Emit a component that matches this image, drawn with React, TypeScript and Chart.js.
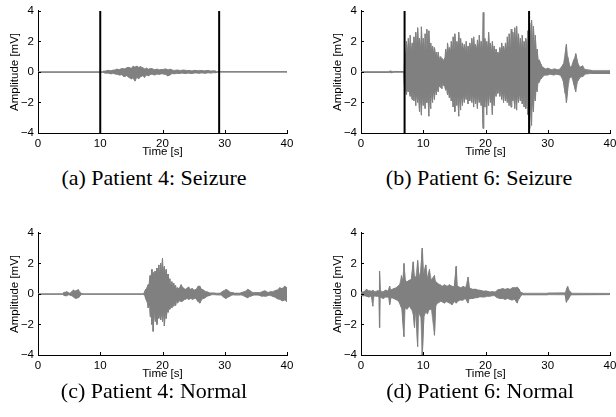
import React, { useEffect, useRef } from "react";
import { Chart, registerables } from "chart.js";

Chart.register(...registerables);

// ---------- axes ----------
const X_TICKS = [0, 10, 20, 30, 40];
const Y_TICKS = [-4, -2, 0, 2, 4];
const X_TITLE = "Time [s]";
const Y_TITLE = "Amplitude [mV]";

// ---------- (a) Patient 4: Seizure ----------
const A_T = [0, 10.4, 10.6, 11.0, 11.4, 11.8, 12.2, 12.6, 13.0, 13.4, 13.8, 14.2, 14.6, 15.0, 15.3, 15.6, 15.9, 16.2, 16.5, 16.8, 17.1, 17.4, 17.7, 18.0, 18.4, 18.8, 19.2, 19.6, 20.0, 20.4, 20.8, 21.2, 21.6, 22.0, 22.5, 23.0, 23.5, 24.0, 24.5, 25.0, 25.5, 26.0, 26.5, 27.0, 27.5, 28.0, 28.5, 28.8, 40];
const A_HI = [0.02, 0.02, 0.06, 0.08, 0.1, 0.09, 0.12, 0.18, 0.15, 0.22, 0.2, 0.26, 0.3, 0.25, 0.36, 0.32, 0.38, 0.3, 0.34, 0.28, 0.2, 0.25, 0.18, 0.22, 0.2, 0.15, 0.18, 0.14, 0.16, 0.2, 0.15, 0.18, 0.12, 0.1, 0.12, 0.1, 0.12, 0.1, 0.08, 0.1, 0.09, 0.1, 0.08, 0.09, 0.08, 0.07, 0.06, 0.02, 0.02];
const A_LO = [-0.02, -0.02, -0.05, -0.08, -0.09, -0.12, -0.1, -0.15, -0.2, -0.18, -0.3, -0.25, -0.35, -0.45, -0.4, -0.6, -0.35, -0.45, -0.3, -0.25, -0.35, -0.2, -0.25, -0.18, -0.15, -0.2, -0.14, -0.15, -0.12, -0.15, -0.25, -0.2, -0.1, -0.12, -0.1, -0.08, -0.1, -0.08, -0.1, -0.08, -0.07, -0.08, -0.07, -0.08, -0.06, -0.06, -0.05, -0.02, -0.02];
const A_MARKERS = [10, 29.1];

// ---------- (b) Patient 6: Seizure ----------
const B_T = [0, 4.5, 4.8, 5.2, 6.9,
  7.0, 7.15, 7.3, 7.45, 7.6, 7.75, 7.9, 8.05, 8.2, 8.35, 8.5, 8.65, 8.8, 8.95, 9.1, 9.25, 9.4, 9.55, 9.7, 9.85,
  10.0, 10.15, 10.3, 10.45, 10.6, 10.75, 10.9, 11.05, 11.2, 11.35, 11.5, 11.65, 11.8, 11.95, 12.1, 12.25, 12.4, 12.55, 12.7, 12.85,
  13.0, 13.15, 13.3, 13.45, 13.6, 13.75, 13.9, 14.05, 14.2, 14.35, 14.5, 14.65, 14.8, 14.95, 15.1, 15.25, 15.4, 15.55, 15.7, 15.85,
  16.0, 16.15, 16.3, 16.45, 16.6, 16.75, 16.9, 17.05, 17.2, 17.35, 17.5, 17.65, 17.8, 17.95, 18.1, 18.25, 18.4, 18.55, 18.7, 18.85,
  19.0, 19.15, 19.3, 19.45, 19.6, 19.75, 19.9, 20.05, 20.2, 20.35, 20.5, 20.65, 20.8, 20.95, 21.1, 21.25, 21.4, 21.55, 21.7, 21.85,
  22.0, 22.15, 22.3, 22.45, 22.6, 22.75, 22.9, 23.05, 23.2, 23.35, 23.5, 23.65, 23.8, 23.95, 24.1, 24.25, 24.4, 24.55, 24.7, 24.85,
  25.0, 25.15, 25.3, 25.45, 25.6, 25.75, 25.9, 26.05, 26.2, 26.35, 26.5, 26.65, 26.8, 26.95, 27.1, 27.25, 27.4, 27.55, 27.7, 27.85,
  28.0, 28.15, 28.3, 28.45, 28.6, 28.9, 29.2, 29.6, 30.0, 30.5, 31.0, 31.5, 32.0, 32.5, 32.8, 33.0, 33.2, 33.5, 33.8, 34.2, 34.5, 34.8, 35.2, 35.6, 36.0, 37.0, 40];
const B_HI = [0.03, 0.03, 0.06, 0.03, 0.03,
  1.0, 1.2, 2.0, 1.3, 2.2, 1.4, 2.4, 1.4, 1.9, 1.5, 2.3, 1.5, 2.6, 1.5, 2.9, 1.6, 2.2, 1.5, 2.96, 1.5,
  2.2, 1.4, 2.5, 1.5, 2.8, 1.5, 2.7, 1.4, 1.9, 1.3, 1.7, 1.2, 1.6, 1.1, 1.3, 0.9, 1.3, 0.8, 1.0, 0.7,
  0.9, 0.7, 0.8, 0.9, 1.5, 1.1, 1.9, 1.3, 1.6, 1.3, 2.0, 1.4, 2.3, 1.5, 2.5, 1.5, 2.0, 1.5, 2.6, 1.5,
  2.2, 1.4, 1.9, 1.4, 1.8, 1.3, 2.0, 1.3, 1.7, 1.3, 1.9, 1.4, 2.2, 1.4, 2.3, 1.4, 1.8, 1.4, 2.1, 1.5,
  2.4, 1.5, 2.0, 1.5, 3.9, 1.5, 2.2, 1.5, 2.0, 1.4, 2.6, 1.4, 1.9, 1.3, 2.0, 1.3, 1.7, 1.2, 1.5, 1.1,
  1.3, 1.1, 1.6, 1.2, 1.9, 1.3, 1.7, 1.3, 1.9, 1.4, 2.3, 1.5, 2.5, 1.5, 2.8, 1.6, 2.6, 1.6, 2.9, 1.7,
  3.0, 1.6, 2.5, 1.5, 2.2, 1.5, 2.4, 1.5, 2.0, 1.5, 2.2, 1.6, 2.7, 1.8, 3.2, 2.0, 3.4, 1.9, 3.0, 1.6,
  2.4, 1.2, 1.5, 0.7, 0.8, 0.5, 0.3, 0.2, 0.25, 0.15, 0.2, 0.15, 0.2, 0.5, 1.2, 1.8, 1.0, 0.4, 0.3, 0.8, 1.2, 0.6, 0.3, 0.4, 0.15, 0.1, 0.1];
const B_LO = [-0.03, -0.03, -0.05, -0.03, -0.03,
  -1.2, -1.1, -1.5, -1.2, -1.3, -1.2, -1.6, -1.3, -1.8, -1.3, -1.9, -1.4, -2.2, -1.4, -2.0, -1.5, -2.6, -1.4, -2.83, -1.5,
  -2.2, -1.4, -2.4, -1.5, -2.0, -1.4, -2.9, -1.5, -2.4, -1.3, -2.0, -1.2, -1.8, -1.1, -1.5, -1.0, -1.3, -0.8, -1.0, -0.7,
  -1.1, -0.7, -0.9, -0.9, -1.2, -1.0, -1.5, -1.2, -1.7, -1.3, -1.9, -1.4, -2.3, -1.5, -2.6, -1.5, -2.2, -1.5, -2.9, -1.5,
  -2.5, -1.5, -2.2, -1.4, -2.0, -1.4, -1.8, -1.3, -2.1, -1.4, -1.9, -1.4, -2.0, -1.4, -2.3, -1.5, -2.1, -1.4, -2.4, -1.5,
  -2.0, -1.5, -2.2, -1.5, -3.7, -1.6, -2.3, -1.5, -2.8, -1.5, -2.2, -1.4, -2.0, -1.4, -2.8, -1.4, -2.2, -1.2, -1.6, -1.1,
  -1.4, -1.1, -1.6, -1.2, -1.8, -1.3, -2.0, -1.3, -1.9, -1.4, -2.0, -1.4, -2.2, -1.5, -2.3, -1.5, -1.9, -1.5, -2.4, -1.6,
  -2.5, -1.5, -2.0, -1.4, -1.9, -1.4, -2.1, -1.5, -2.3, -1.5, -2.4, -1.6, -2.8, -1.8, -3.7, -2.0, -3.5, -1.9, -2.6, -1.5,
  -1.9, -1.1, -1.3, -0.7, -0.7, -0.45, -0.3, -0.2, -0.2, -0.15, -0.2, -0.15, -0.2, -0.6, -1.4, -2.0, -1.2, -0.4, -0.3, -0.8, -1.3, -0.6, -0.35, -0.3, -0.15, -0.1, -0.1];
const B_MARKERS = [7, 27];

// ---------- (c) Patient 4: Normal ----------
const C_T = [0, 4.0, 4.2, 4.6, 5.0, 5.3, 5.7, 6.1, 6.5, 6.9, 7.1, 17.0, 17.3, 17.5, 17.7, 17.85, 18.0, 18.15, 18.3, 18.4, 18.5, 18.65, 18.8, 18.95, 19.1, 19.25, 19.4, 19.55, 19.7, 19.85, 20.0, 20.15, 20.3, 20.45, 20.6, 20.75, 20.9, 21.05, 21.2, 21.35, 21.5, 21.65, 21.8, 21.95, 22.1, 22.25, 22.4, 22.7, 23.0, 23.3, 23.6, 23.9, 24.2, 24.5, 24.8, 25.1, 25.4, 25.7, 26.0, 26.3, 26.6, 27.0, 27.4, 27.8, 28.5, 29.3, 29.8, 30.2, 30.6, 31.0, 31.5, 32.5, 33.2, 33.7, 34.1, 34.6, 35.5, 36.0, 36.5, 37.0, 37.5, 38.0, 38.4, 38.8, 39.2, 39.6, 40.0];
const C_HI = [0.02, 0.02, 0.1, 0.15, 0.05, 0.1, 0.25, 0.2, 0.28, 0.05, 0.02, 0.02, 0.3, 0.4, 0.6, 0.6, 1.2, 0.9, 1.6, 1.0, 1.4, 1.0, 1.5, 1.1, 1.7, 1.2, 1.9, 1.3, 2.0, 1.4, 2.35, 1.4, 1.8, 1.2, 1.6, 1.0, 1.3, 0.8, 1.0, 0.6, 0.8, 0.5, 0.7, 0.45, 0.55, 0.35, 0.4, 0.35, 0.6, 0.4, 0.3, 0.35, 0.45, 0.3, 0.35, 0.25, 0.3, 0.5, 0.5, 0.3, 0.25, 0.15, 0.1, 0.06, 0.05, 0.06, 0.2, 0.3, 0.2, 0.1, 0.06, 0.06, 0.15, 0.3, 0.2, 0.08, 0.08, 0.15, 0.2, 0.1, 0.15, 0.2, 0.25, 0.4, 0.35, 0.5, 0.4];
const C_LO = [-0.02, -0.02, -0.1, -0.12, -0.05, -0.1, -0.2, -0.3, -0.25, -0.05, -0.02, -0.02, -0.3, -0.5, -0.9, -0.7, -1.5, -1.0, -2.0, -1.2, -2.45, -1.2, -1.8, -1.2, -2.0, -1.2, -1.6, -1.2, -1.7, -1.2, -1.8, -1.2, -2.1, -1.1, -1.6, -1.0, -1.2, -0.8, -1.0, -0.6, -0.9, -0.6, -0.8, -0.5, -0.75, -0.4, -0.6, -0.45, -0.5, -0.45, -0.35, -0.3, -0.35, -0.3, -0.35, -0.3, -0.3, -0.5, -0.6, -0.35, -0.3, -0.2, -0.12, -0.06, -0.05, -0.06, -0.2, -0.3, -0.2, -0.1, -0.06, -0.06, -0.15, -0.25, -0.15, -0.08, -0.08, -0.15, -0.15, -0.1, -0.12, -0.2, -0.3, -0.35, -0.45, -0.4, -0.5];
const C_MARKERS: number[] = [];

// ---------- (d) Patient 6: Normal ----------
const D_T = [0.0, 0.5, 0.9, 1.3, 1.7, 1.9, 2.1, 2.6, 2.9, 3.0, 3.1, 3.6, 4.0, 4.4, 4.6, 4.8, 5.3, 5.8, 6.2, 6.5, 6.7, 6.9, 7.1, 7.4, 7.8, 8.1, 8.4, 8.6, 8.8, 9.1, 9.3, 9.6, 9.85, 10.1, 10.4, 10.7, 11.0, 11.3, 11.8, 12.0, 12.3, 12.7, 13.0, 13.4, 13.8, 14.2, 14.6, 15.0, 15.3, 15.5, 16.0, 16.4, 16.8, 17.2, 17.4, 18.0, 18.5, 19.0, 19.5, 20.0, 20.5, 21.0, 21.5, 21.9, 22.3, 22.7, 23.1, 23.5, 23.9, 24.3, 24.7, 25.1, 25.4, 25.7, 26.0, 30.0, 32.8, 33.0, 33.2, 33.5, 33.8, 40];
const D_HI = [0.12, 0.15, 0.3, 0.2, 0.18, 0.25, 0.15, 0.2, 0.2, 1.5, 0.2, 0.15, 0.25, 0.2, 0.5, 0.25, 0.35, 0.45, 0.6, 1.2, 0.8, 2.0, 0.9, 0.8, 0.9, 1.0, 2.1, 1.2, 1.0, 2.2, 1.1, 1.5, 3.0, 1.3, 1.9, 1.0, 1.6, 0.9, 1.2, 0.8, 0.7, 0.6, 0.5, 0.6, 0.5, 0.6, 0.5, 0.5, 1.8, 0.5, 0.4, 0.5, 0.4, 1.1, 0.4, 0.3, 0.3, 0.25, 0.2, 0.2, 0.15, 0.15, 0.12, 0.25, 0.3, 0.35, 0.3, 0.35, 0.3, 0.4, 0.4, 0.45, 0.3, 0.1, 0.05, 0.05, 0.06, 0.3, 0.48, 0.2, 0.05, 0.04];
const D_LO = [-0.1, -0.12, -0.15, -0.2, -0.15, -0.8, -0.12, -0.15, -0.2, -2.2, -0.2, -0.3, -0.2, -0.2, -0.7, -0.25, -0.3, -0.4, -0.6, -0.9, -1.7, -2.8, -0.9, -1.0, -0.8, -1.0, -1.3, -2.2, -1.0, -3.45, -1.2, -1.5, -4.0, -1.5, -1.2, -1.3, -1.0, -1.0, -2.7, -0.8, -0.6, -0.5, -0.5, -0.6, -0.5, -0.6, -0.7, -0.5, -0.6, -0.5, -0.4, -0.4, -0.3, -0.6, -0.3, -0.3, -0.25, -0.2, -0.2, -0.18, -0.15, -0.12, -0.12, -0.25, -0.3, -0.3, -0.35, -0.3, -0.35, -0.4, -0.35, -0.6, -0.3, -0.1, -0.05, -0.05, -0.06, -0.55, -0.4, -0.2, -0.05, -0.04];
const D_MARKERS: number[] = [];

const CAPTIONS = [
  "(a) Patient 4: Seizure",
  "(b) Patient 6: Seizure",
  "(c) Patient 4: Normal",
  "(d) Patient 6: Normal",
];

const SANS = "'Liberation Sans', Arial, Helvetica, sans-serif";
const SERIF = "'Liberation Serif', 'Times New Roman', Times, serif";
const SIGNAL_COLOR = "rgb(128,128,128)";

const fmt = (v: number) => (v < 0 ? "\u2212" + Math.abs(v) : String(v));

const inwardTicks = {
  id: "inwardTicks",
  afterDraw(chart: any) {
    const { ctx, chartArea, scales } = chart;
    const { left, bottom } = chartArea;
    ctx.save();
    ctx.strokeStyle = "#000";
    ctx.lineWidth = 1;
    ctx.beginPath();
    X_TICKS.forEach((v) => {
      const px = Math.round(scales.x.getPixelForValue(v)) + 0.5;
      ctx.moveTo(px, bottom);
      ctx.lineTo(px, bottom - 3);
    });
    Y_TICKS.forEach((v) => {
      const py = Math.round(scales.y.getPixelForValue(v)) + 0.5;
      ctx.moveTo(left, py);
      ctx.lineTo(left + 3, py);
    });
    ctx.stroke();
    ctx.restore();
  },
};

type PanelProps = {
  t: number[];
  hi: number[];
  lo: number[];
  markers: number[];
  left: number;
  top: number;
};

function Panel({ t, hi, lo, markers, left, top }: PanelProps) {
  const ref = useRef<HTMLCanvasElement | null>(null);
  useEffect(() => {
    if (!ref.current) return;
    // meander trace: vertical stroke at every sample, joined along the envelope
    const signal: { x: number; y: number }[] = [];
    t.forEach((tv, i) => {
      if (i % 2 === 0) {
        signal.push({ x: tv, y: hi[i] });
        signal.push({ x: tv, y: lo[i] });
      } else {
        signal.push({ x: tv, y: lo[i] });
        signal.push({ x: tv, y: hi[i] });
      }
    });
    const upper = t.map((tv, i) => ({ x: tv, y: hi[i] }));
    const lower = t.map((tv, i) => ({ x: tv, y: lo[i] }));
    const yMin = Y_TICKS[0];
    const yMax = Y_TICKS[Y_TICKS.length - 1];
    const font = { family: SANS, size: 11.5 };
    const chart = new Chart(ref.current, {
      type: "line",
      data: {
        datasets: [
          ...markers.map((m) => ({
            data: [
              { x: m, y: yMin },
              { x: m, y: yMax },
            ],
            borderColor: "#000",
            borderWidth: 2,
            pointRadius: 0,
            fill: false,
          })),
          {
            data: signal,
            borderColor: SIGNAL_COLOR,
            borderWidth: 1,
            pointRadius: 0,
            tension: 0,
            fill: false,
          },
          {
            data: upper,
            borderColor: SIGNAL_COLOR,
            borderWidth: 0.6,
            backgroundColor: SIGNAL_COLOR,
            pointRadius: 0,
            tension: 0,
            fill: "+1",
          },
          {
            data: lower,
            borderColor: SIGNAL_COLOR,
            borderWidth: 0.6,
            pointRadius: 0,
            tension: 0,
            fill: false,
          },
        ],
      },
      options: {
        animation: false,
        responsive: false,
        devicePixelRatio: 1,
        events: [],
        layout: { padding: { left: 0, top: 10, right: 13, bottom: 0 } },
        plugins: {
          legend: { display: false },
          tooltip: { enabled: false },
          filler: { propagate: false },
        },
        scales: {
          x: {
            type: "linear",
            min: X_TICKS[0],
            max: X_TICKS[X_TICKS.length - 1],
            afterBuildTicks: (s: any) => {
              s.ticks = X_TICKS.map((v) => ({ value: v }));
            },
            afterFit: (s: any) => {
              s.height = 32;
            },
            grid: { display: false, drawTicks: false },
            border: { display: true, color: "#000", width: 1 },
            ticks: {
              color: "#000",
              font,
              padding: 4,
              maxRotation: 0,
              autoSkip: false,
              callback: (v: any) => fmt(Number(v)),
            },
            title: {
              display: true,
              text: X_TITLE,
              color: "#000",
              font,
              padding: { top: 0, bottom: 6 },
            },
          },
          y: {
            type: "linear",
            min: yMin,
            max: yMax,
            afterBuildTicks: (s: any) => {
              s.ticks = Y_TICKS.map((v) => ({ value: v }));
            },
            afterFit: (s: any) => {
              s.width = 38;
            },
            grid: { display: false, drawTicks: false },
            border: { display: true, color: "#000", width: 1 },
            ticks: {
              color: "#000",
              font,
              padding: 4,
              autoSkip: false,
              callback: (v: any) => fmt(Number(v)),
            },
            title: {
              display: true,
              text: Y_TITLE,
              color: "#000",
              font,
              padding: { top: 8, bottom: 0 },
            },
          },
        },
      } as any,
      plugins: [inwardTicks],
    });
    return () => chart.destroy();
  }, [t, hi, lo, markers]);
  return (
    <canvas
      ref={ref}
      width={300}
      height={165}
      style={{ position: "absolute", left, top, width: 300, height: 165 }}
    />
  );
}

function Caption({ text, cx, top }: { text: string; cx: number; top: number }) {
  return (
    <div
      style={{
        position: "absolute",
        left: cx - 150,
        top,
        width: 300,
        textAlign: "center",
        fontFamily: SERIF,
        fontSize: 22,
        lineHeight: "22px",
        color: "#000",
        whiteSpace: "nowrap",
      }}
    >
      {text}
    </div>
  );
}

export default function App() {
  return (
    <div
      style={{
        position: "absolute",
        left: 0,
        top: 0,
        width: 616,
        height: 417,
        overflow: "hidden",
        background: "#fff",
      }}
    >
      <Panel t={A_T} hi={A_HI} lo={A_LO} markers={A_MARKERS} left={0} top={0} />
      <Panel t={B_T} hi={B_HI} lo={B_LO} markers={B_MARKERS} left={323} top={0} />
      <Panel t={C_T} hi={C_HI} lo={C_LO} markers={C_MARKERS} left={0} top={222} />
      <Panel t={D_T} hi={D_HI} lo={D_LO} markers={D_MARKERS} left={323} top={222} />
      <Caption text={CAPTIONS[0]} cx={154} top={167} />
      <Caption text={CAPTIONS[1]} cx={479} top={167} />
      <Caption text={CAPTIONS[2]} cx={154} top={380} />
      <Caption text={CAPTIONS[3]} cx={480} top={380} />
    </div>
  );
}
